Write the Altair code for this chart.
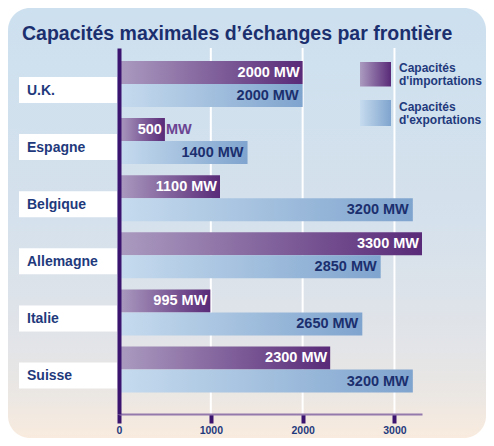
import altair as alt
import pandas as pd

TITLE = "Capacités maximales d’échanges par frontière"
countries = ["U.K.", "Espagne", "Belgique", "Allemagne", "Italie", "Suisse"]
imports_mw = [2000, 500, 1100, 3300, 995, 2300]
exports_mw = [2000, 1400, 3200, 2850, 2650, 3200]
series_keys = ["imp", "exp"]
series_names = ["Capacités\nd'importations", "Capacités\nd'exportations"]
x_ticks = [0, 1000, 2000, 3000]
x_max = 3300

FONT = "Liberation Sans"
NAVY = "#1f3a7c"
DARK_PURPLE = "#3b1470"

rows = []
for c, vi, ve in zip(countries, imports_mw, exports_mw):
    small = vi < 700
    rows.append(dict(country=c, series="imp", value=vi,
                     lab_in=str(vi) if small else f"{vi} MW",
                     lab_out="MW" if small else ""))
    rows.append(dict(country=c, series="exp", value=ve,
                     lab_in=f"{ve} MW", lab_out=""))
df = pd.DataFrame(rows)
cdf = pd.DataFrame({"country": countries})
gdf = pd.DataFrame({"tick": x_ticks[1:]})
ldf = pd.DataFrame({"key": series_keys, "name": series_names})
tdf = pd.DataFrame({"t": [TITLE]})


def lin(c0, c1):
    return alt.LinearGradient(
        gradient="linear",
        stops=[alt.GradientStop(color=c0, offset=0), alt.GradientStop(color=c1, offset=1)],
        x1=0, x2=1, y1=0, y2=0)


imp_grad = lin("#ab9bc0", "#592a78")
exp_grad = lin("#c6dbee", "#7fa4ce")
bg_grad = alt.LinearGradient(
    gradient="linear",
    stops=[alt.GradientStop(color="#cde0ef", offset=0),
           alt.GradientStop(color="#d5e1ec", offset=0.5),
           alt.GradientStop(color="#e2e4e8", offset=0.78),
           alt.GradientStop(color="#ebe7e3", offset=0.9),
           alt.GradientStop(color="#f9ebde", offset=1)],
    x1=0, x2=0, y1=0, y2=1)

W, H = 303, 366

xscale = alt.Scale(domain=[0, x_max], nice=False, zero=True)
xaxis = alt.Axis(values=x_ticks, grid=False, title=None, zindex=1, format="d",
                 domainColor="#9479ad", domainWidth=2,
                 tickColor=DARK_PURPLE, tickWidth=4, tickSize=9,
                 labelFont=FONT, labelFontSize=10.5, labelFontWeight="bold",
                 labelColor=NAVY, labelPadding=2, labelFlush=False)
yscale = alt.Scale(domain=countries, paddingInner=0.194, paddingOuter=0.302, align=0.377)
yaxis = alt.Axis(labels=False, ticks=False, title=None, grid=False, zindex=1,
                 domainColor=DARK_PURPLE, domainWidth=4)

Y = alt.Y("country:N", sort=countries, scale=yscale, axis=yaxis)
YO = alt.YOffset("series:N", sort=series_keys, scale=alt.Scale(domain=series_keys))
X = alt.X("value:Q", scale=xscale, axis=xaxis)

bg = alt.Chart(tdf).mark_rect(color=bg_grad, cornerRadius=22).encode(
    x=alt.value(-111), x2=alt.value(367), y=alt.value(-40), y2=alt.value(390))

title = alt.Chart(tdf).mark_text(align="left", baseline="alphabetic", font=FONT,
                                 fontSize=19.5, fontWeight="bold", color="#1b2f6e").encode(
    x=alt.value(-97), y=alt.value(-8.5), text="t:N")

grid = alt.Chart(gdf).mark_rule(color="white", strokeWidth=2).encode(
    x=alt.X("tick:Q", scale=xscale, axis=xaxis), y=alt.value(0), y2=alt.value(H))

boxes = alt.Chart(cdf).mark_bar(color="white", orient="horizontal", height=26, yOffset=6).encode(
    x=alt.value(-100), x2=alt.value(-2), y=Y)

clabels = alt.Chart(cdf).mark_text(align="left", baseline="middle", dy=6.5, font=FONT,
                                   fontSize=14, fontWeight="bold", color=NAVY).encode(
    x=alt.value(-92), y=Y, text="country:N")

base = alt.Chart(df).encode(x=X, y=Y, yOffset=YO)
bars_imp = base.transform_filter(alt.datum.series == "imp").mark_bar(color=imp_grad)
bars_exp = base.transform_filter(alt.datum.series == "exp").mark_bar(color=exp_grad)

txt_imp = base.transform_filter(alt.datum.series == "imp").mark_text(
    align="right", baseline="middle", dx=-3, dy=0.5, font=FONT, fontSize=14.5,
    fontWeight="bold", color="white").encode(text="lab_in:N")
txt_imp_out = base.transform_filter(alt.datum.series == "imp").mark_text(
    align="left", baseline="middle", dx=1, dy=0.5, font=FONT, fontSize=14.5,
    fontWeight="bold", color="#6b4592").encode(text="lab_out:N")
txt_exp = base.transform_filter(alt.datum.series == "exp").mark_text(
    align="right", baseline="middle", dx=-4, dy=0.5, font=FONT, fontSize=14.5,
    fontWeight="bold", color="#1b2f6e").encode(text="lab_in:N")

leg_sw_imp = alt.Chart(ldf).transform_filter(alt.datum.key == "imp").mark_rect(color=imp_grad).encode(
    x=alt.value(241), x2=alt.value(272), y=alt.value(14), y2=alt.value(38.5))
leg_sw_exp = alt.Chart(ldf).transform_filter(alt.datum.key == "exp").mark_rect(color=exp_grad).encode(
    x=alt.value(241), x2=alt.value(272), y=alt.value(52), y2=alt.value(78))
leg_tx_imp = alt.Chart(ldf).transform_filter(alt.datum.key == "imp").mark_text(
    align="left", baseline="alphabetic", lineBreak="\n", lineHeight=12.5, font=FONT,
    fontSize=12, fontWeight="bold", color=NAVY).encode(
    x=alt.value(280), y=alt.value(24), text="name:N")
leg_tx_exp = alt.Chart(ldf).transform_filter(alt.datum.key == "exp").mark_text(
    align="left", baseline="alphabetic", lineBreak="\n", lineHeight=12.5, font=FONT,
    fontSize=12, fontWeight="bold", color=NAVY).encode(
    x=alt.value(280), y=alt.value(63.3), text="name:N")

chart = alt.layer(
    bg, title, grid, boxes, clabels, bars_imp, bars_exp,
    txt_imp, txt_imp_out, txt_exp,
    leg_sw_imp, leg_sw_exp, leg_tx_imp, leg_tx_exp
).properties(
    width=W, height=H, autosize="none",
    padding={"left": 111, "top": 40, "right": 64, "bottom": 24},
    background="white"
).configure_view(stroke="transparent")

chart.save("out.html", embed_options={"renderer": "svg", "actions": False})
